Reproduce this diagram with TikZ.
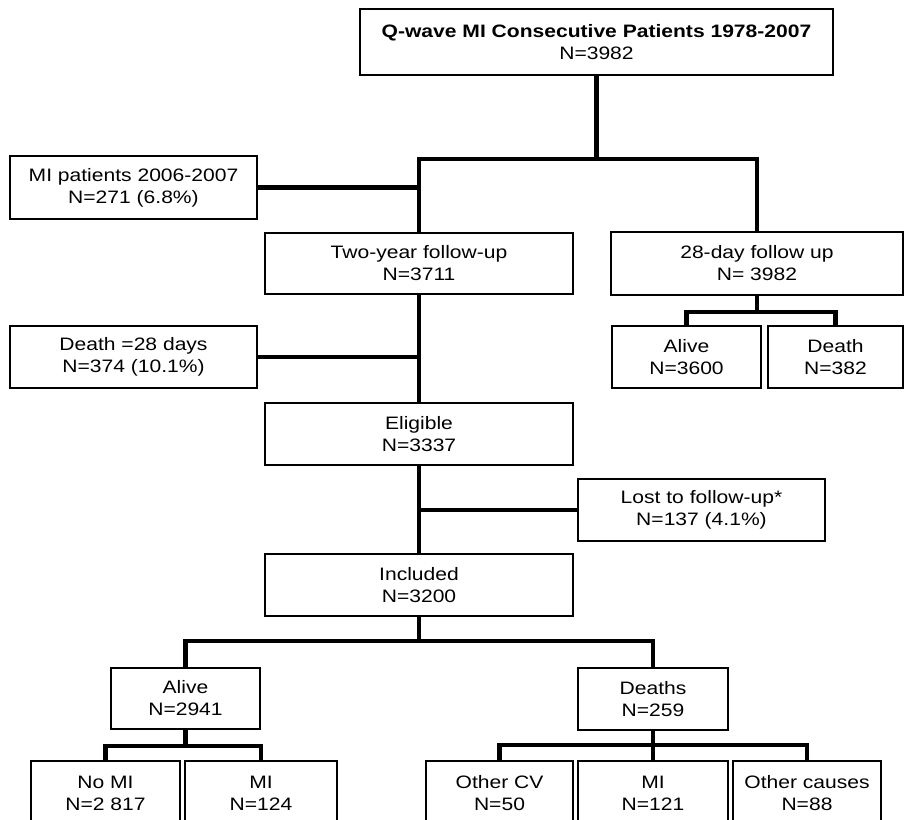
\documentclass[tikz,border=0pt]{standalone}
\usepackage{fontspec}
\setmainfont{Liberation Sans}[FakeStretch=1.17]
\usetikzlibrary{positioning}

\begin{document}
\begin{tikzpicture}[x=0.75pt,y=-0.75pt,
  box/.style={draw,line width=1.3pt,fill=white,align=center,inner sep=0pt,
    font=\fontsize{13.5}{16.5}\selectfont},
  link/.style={line width=3.4pt,line join=miter}]

  \clip (0,0) rectangle (906,819);

%% main column
  \node [box,minimum width=355pt,minimum height=49.5pt] (top) at (596.5,42)
    {\textbf{Q-wave MI Consecutive Patients 1978-2007}\\N=3982};
  \node [box,minimum width=231pt,minimum height=46pt] (twoyr) at (419,263.5)
    {Two-year follow-up\\N=3711};
  \node [box,minimum width=231pt,minimum height=46.5pt] (elig) at (419,434)
    {Eligible\\N=3337};
  \node [box,minimum width=231pt,minimum height=46.5pt] (incl) at (419,585)
    {Included\\N=3200};

%% excluded
  \node [box,minimum width=185pt,minimum height=47pt] (prior) at (133.5,187.5)
    {MI patients 2006-2007\\N=271 (6.8\%)};
  \node [box,minimum width=185pt,minimum height=46.5pt] (early) at (133.5,357)
    {Death =28 days\\N=374 (10.1\%)};
  \node [box,minimum width=185pt,minimum height=46.5pt] (lost) at (701.5,510)
    {Lost to follow-up*\\N=137 (4.1\%)};

%% 28-day follow up
  \node [box,minimum width=219pt,minimum height=47pt] (day28) at (757,263.5)
    {28-day follow up\\N= 3982};
  \node [box,minimum width=112pt,minimum height=46.5pt] (alive28) at (686.5,357)
    {Alive\\N=3600};
  \node [box,minimum width=101pt,minimum height=46.5pt] (death28) at (835.5,357)
    {Death\\N=382};

%% outcome
  \node [box,minimum width=112pt,minimum height=46pt] (alive) at (185.5,698.5)
    {Alive\\N=2941};
  \node [box,minimum width=112.5pt,minimum height=46.5pt] (deaths) at (653,699)
    {Deaths\\N=259};
  \node [box,minimum width=112pt,minimum height=49pt] (nomi) at (105.5,793.5)
    {No MI\\N=2 817};
  \node [box,minimum width=114pt,minimum height=49pt] (mialive) at (261,793.5)
    {MI\\N=124};
  \node [box,minimum width=110pt,minimum height=49pt] (othcv) at (499.5,793.5)
    {Other CV\\N=50};
  \node [box,minimum width=112.5pt,minimum height=49pt] (midead) at (653,793.5)
    {MI\\N=121};
  \node [box,minimum width=111pt,minimum height=49pt] (othc) at (807,793.5)
    {Other causes\\N=88};

%% split points
  \coordinate (s1) at (597,159);
  \coordinate (s2) at (757,312);
  \coordinate (s3) at (420,641);
  \coordinate (s4) at (185.5,746);
  \coordinate (s5) at (653,745);

%% connections
  \draw [link] (top.south) -- (top.south |- s1);
  \draw [link] (twoyr.north) |- (s1) -| (day28.north);
  \draw [link] (prior.east) -- (prior.east -| twoyr.north);
  \draw [link] (twoyr.south) -- (elig.north);
  \draw [link] (early.east) -- (early.east -| elig.north);
  \draw [link] (elig.south) -- (incl.north);
  \draw [link] (lost.west) -- (lost.west -| incl.north);

  \draw [link] (day28.south) -- (s2);
  \draw [link] (alive28.north) |- (s2) -| (death28.north);

  \draw [link] (incl.south) -- (incl.south |- s3);
  \draw [link] (alive.north) |- (s3) -| (deaths.north);

  \draw [link] (alive.south) -- (s4);
  \draw [link] (nomi.north) |- (s4) -| (mialive.north);

  \draw [link] (deaths.south) -- (midead.north);
  \draw [link] (othcv.north) |- (s5) -| (othc.north);
\end{tikzpicture}
\end{document}
